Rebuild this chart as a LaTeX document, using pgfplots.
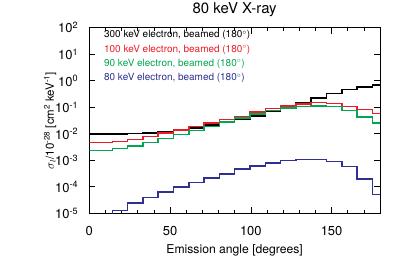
\documentclass[border=0pt]{standalone}
\usepackage{pgfplots}
\pgfplotsset{compat=1.18}
\usepackage{fontspec}
\setmainfont{TeX Gyre Heros}
\definecolor{cred}{RGB}{237,28,36}
\definecolor{cgreen}{RGB}{0,166,81}
\definecolor{cblue}{RGB}{46,49,146}
\begin{document}
\begin{tikzpicture}
\path[use as bounding box] (0,0) rectangle (407bp,271bp);
\begin{axis}[
  at={(89.3bp,57.7bp)}, anchor=south west,
  scale only axis, width=290.7bp, height=185.6bp,
  xmin=0, xmax=180, ymin=1e-5, ymax=1e2, ymode=log,
  xtick={0,50,100,150}, xticklabels={0,50,100,150},
  minor xtick={10,20,30,40,60,70,80,90,110,120,130,140,160,170},
  ytick={1e-5,1e-4,1e-3,1e-2,1e-1,1,10,100},
  yticklabels={10\textsuperscript{-5},10\textsuperscript{-4},10\textsuperscript{-3},10\textsuperscript{-2},10\textsuperscript{-1},10\textsuperscript{0},10\textsuperscript{1},10\textsuperscript{2}},
  yminorticks=false,
  tick align=inside,
  major tick length=6bp, minor tick length=3bp,
  tick style={black, line width=0.6bp},
  axis line style={black, line width=0.8bp},
  ticklabel style={font=\fontsize{13}{13}\selectfont},
  yticklabel style={inner sep=0pt, xshift=-11bp},
  xticklabel style={inner sep=0pt, yshift=-13bp},
  title={80 keV X-ray},
  title style={at={(axis description cs:0.5,1.064)}, anchor=center, font=\fontsize{15}{15}\selectfont},
  xlabel={Emission angle [degrees]},
  xlabel style={at={(axis description cs:0.5,-0.219)}, anchor=base, font=\fontsize{12.2}{12.2}\selectfont},
  ylabel={$\sigma_l$/10\textsuperscript{-28} [cm\textsuperscript{2} keV\textsuperscript{-1}]},
  ylabel style={at={(axis description cs:-0.135,0.5)}, anchor=center, rotate=0, font=\fontsize{11.5}{11.5}\selectfont},
  clip=true,
]
\addplot[const plot mark left, black, line width=1.5bp] coordinates {
(0,9.6e-3) (14.21,9.8e-3) (23.68,0.0102) (33.16,0.0108) (42.63,0.0117)
(52.11,0.0130) (61.58,0.0165) (71.05,0.0215) (80.53,0.028) (90.00,0.036)
(99.47,0.047) (108.95,0.069) (118.42,0.102) (127.89,0.145) (137.37,0.22)
(146.84,0.33) (156.32,0.47) (165.79,0.59) (175.26,0.68) (180,0.68)};
\addplot[const plot mark left, cred, line width=1.5bp] coordinates {
(0,4.7e-3) (14.21,5.2e-3) (23.68,6.2e-3) (33.16,7.8e-3) (42.63,0.0105)
(52.11,0.0138) (61.58,0.0187) (71.05,0.025) (80.53,0.034) (90.00,0.045)
(99.47,0.065) (108.95,0.09) (118.42,0.112) (127.89,0.135) (137.37,0.152)
(146.84,0.14) (156.32,0.107) (165.79,0.083) (175.26,0.059) (180,0.059)};
\addplot[const plot mark left, cgreen, line width=1.5bp] coordinates {
(0,2.35e-3) (14.21,2.76e-3) (23.68,3.5e-3) (33.16,4.67e-3) (42.63,6.7e-3)
(52.11,9.3e-3) (61.58,0.0135) (71.05,0.0191) (80.53,0.0276) (90.00,0.0388)
(99.47,0.055) (108.95,0.075) (118.42,0.094) (127.89,0.106) (137.37,0.112)
(146.84,0.108) (156.32,0.075) (165.79,0.042) (175.26,0.026) (180,0.026)};
\addplot[const plot mark left, cblue, line width=1.5bp] coordinates {
(0,5e-6) (14.21,1.3e-5) (23.68,2.5e-5) (33.16,4.0e-5) (42.63,6.4e-5)
(52.11,1.0e-4) (61.58,1.48e-4) (71.05,2.15e-4) (80.53,3.1e-4) (90.00,4.6e-4)
(99.47,6.1e-4) (108.95,7.9e-4) (118.42,9.7e-4) (127.89,1.09e-3) (137.37,1.09e-3)
(146.84,9.1e-4) (156.32,5.9e-4) (165.79,2.0e-4) (175.26,5.2e-5) (180,5.2e-5)};
\node[anchor=base west, text=black, font=\fontsize{10}{10}\selectfont] at (rel axis cs:0.039,0.946) {300 keV electron, beamed (180$^\circ$)};
\node[anchor=base west, text=cred, font=\fontsize{10}{10}\selectfont] at (rel axis cs:0.039,0.868) {100 keV electron, beamed (180$^\circ$)};
\node[anchor=base west, text=cgreen, font=\fontsize{10}{10}\selectfont] at (rel axis cs:0.039,0.791) {90 keV electron, beamed (180$^\circ$)};
\node[anchor=base west, text=cblue, font=\fontsize{10}{10}\selectfont] at (rel axis cs:0.039,0.714) {80 keV electron, beamed (180$^\circ$)};
\end{axis}
\end{tikzpicture}
\end{document}
